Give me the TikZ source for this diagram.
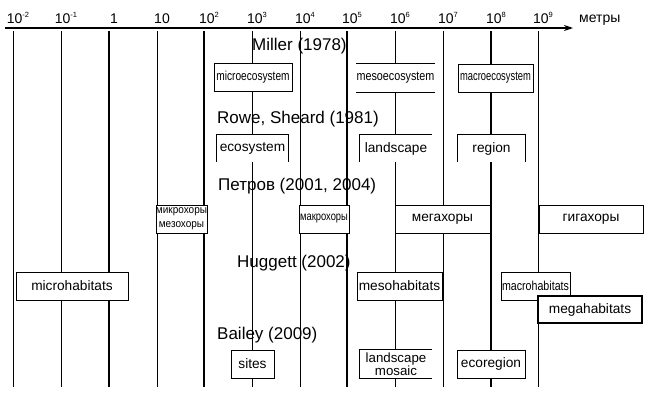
\documentclass[tikz,border=0pt]{standalone}
\usepackage{fontspec}
\setmainfont{Liberation Sans}
\usepackage{graphicx}
\usetikzlibrary{arrows.meta}
\newcommand\headfont{\fontsize{17}{20}\selectfont}
\newcommand\boxfont{\fontsize{13.7}{15}\selectfont}
\newcommand\tickfont{\fontsize{14}{15}\selectfont}
\newcommand\cond[2]{\scalebox{#1}[1]{#2}}
\newcommand\expo[1]{\raisebox{5.5pt}{\fontsize{7.5}{8}\selectfont #1}}
\begin{document}
\begin{tikzpicture}[x=1pt,y=-1pt,
  grid/.style={line width=0.8pt},
  gridthick/.style={line width=1.6pt},
  box/.style={draw, line width=0.9pt, fill=white, inner sep=0pt, minimum height=28pt, font=\boxfont, align=center},
  openbox/.style={fill=white, inner sep=0pt, minimum height=28pt, font=\boxfont, align=center},
  edge/.style={line width=0.9pt},
  head/.style={anchor=base west, inner sep=0pt, font=\headfont},
  tick/.style={anchor=base, inner sep=0pt, font=\tickfont}]
\useasboundingbox[fill=white] (0,0) rectangle (655,397);

% axis
\coordinate (ax0) at (5,28);
\coordinate (ax1) at (573,28);
\draw[line width=1.4pt,-{Stealth[length=9pt,width=6pt]}] (ax0) -- (ax1);
\node[anchor=base west, inner sep=0pt, font=\tickfont] (unit) at (579,22) {метры};

% grid lines and tick labels
\foreach \x/\w/\lab [count=\i] in {13/grid/{10\expo{-2}},61/grid/{10\expo{-1}},109/gridthick/{1},157/grid/{10},204/gridthick/{10\expo{2}},252/grid/{10\expo{3}},300/grid/{10\expo{4}},347/gridthick/{10\expo{5}},395/grid/{10\expo{6}},443/grid/{10\expo{7}},491/gridthick/{10\expo{8}},538/grid/{10\expo{9}}}{
  \coordinate (gt\i) at (\x,31);
  \coordinate (gb\i) at (\x,387);
  \draw[\w] (gt\i) -- (gb\i);
  \node[tick] (lab\i) at (\x+5,23) {\lab};
}

% Miller (1978)
\node[head] (miller) at (252,50) {Miller (1978)};
\node[box, minimum width=78pt] (microeco) at (253,77.5) {\cond{0.78}{\fontsize{13}{14}\selectfont microecosystem}};
\node[openbox, minimum width=75pt] (mesoeco) at (395.5,78) {\cond{0.83}{\fontsize{13}{14}\selectfont mesoecosystem}};
\draw[edge] (mesoeco.north west) -- (mesoeco.north east) (mesoeco.south west) -- (mesoeco.south east);
\node[box, minimum width=75pt] (macroeco) at (495.5,78) {\cond{0.72}{\fontsize{13}{14}\selectfont macroecosystem}};

% Rowe, Sheard (1981)
\node[head] (rowe) at (217,123) {Rowe, Sheard (1981)};
\node[openbox, minimum width=71pt, minimum height=27pt] (ecosys) at (252.5,148.5) {ecosystem};
\draw[edge] (ecosys.south west) -- (ecosys.north west) -- (ecosys.north east) -- (ecosys.south east);
\node[openbox, minimum width=72pt, minimum height=27pt] (landsc) at (396,148.5) {landscape};
\draw[edge] (landsc.south west) -- (landsc.north west) -- (landsc.north east);
\node[openbox, minimum width=67pt, minimum height=27pt] (region) at (491.5,148.5) {region};
\draw[edge] (region.south west) -- (region.north west) -- (region.north east) -- (region.south east);

% Petrov (2001, 2004)
\node[head] (petrov) at (218,190) {Петров (2001, 2004)};
\node[box, minimum width=51pt] (mikro) at (181.5,219) {\cond{0.91}{\fontsize{11}{12}\selectfont микрохоры}\\[-1pt]\cond{0.91}{\fontsize{11}{12}\selectfont мезохоры}};
\node[box, minimum width=50pt] (makro) at (324,219) {\cond{0.78}{\fontsize{12}{13}\selectfont макрохоры}};
\node[box, minimum width=95pt] (mega) at (442.5,219) {мегахоры};
\node[box, minimum width=104pt] (giga) at (591,219) {гигахоры};

% Huggett (2002)
\node[head] (huggett) at (237,267) {Huggett (2002)};
\node[box, minimum width=112pt] (microhab) at (72,286) {microhabitats};
\node[box, minimum width=85pt] (mesohab) at (399.5,286) {mesohabitats};
\node[box, minimum width=69pt] (macrohab) at (535.5,286) {\cond{0.82}{\fontsize{13}{14}\selectfont macrohabitats}};
\node[box, minimum width=104pt, minimum height=27pt, line width=1.2pt] (megahab) at (590,309.5) {megahabitats};

% Bailey (2009)
\node[head] (bailey) at (217,339) {Bailey (2009)};
\node[box, minimum width=43pt] (sites) at (252.5,364) {sites};
\node[openbox, minimum width=72pt, font=\fontsize{13.3}{13.5}\selectfont] (mosaic) at (396,364) {landscape\\mosaic};
\draw[edge] (mosaic.north east) -- (mosaic.north west) -- (mosaic.south west) -- (mosaic.south east);
\node[box, minimum width=68pt] (ecoreg) at (491,364) {ecoregion};
\end{tikzpicture}
\end{document}
